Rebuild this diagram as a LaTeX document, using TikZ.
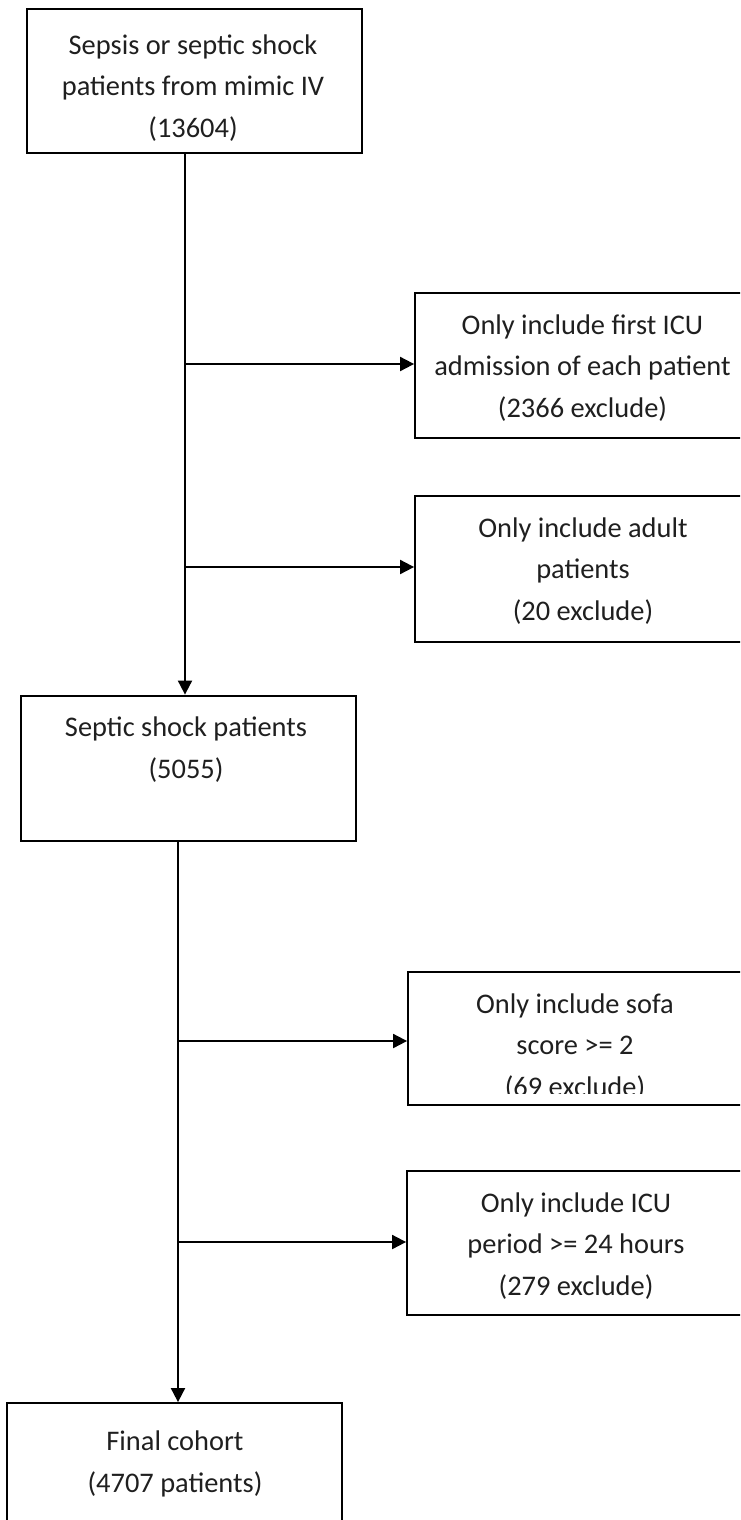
\documentclass[tikz,border=0pt]{standalone}
\usepackage{fontspec}
\setmainfont{Carlito}
\usetikzlibrary{arrows.meta}
\begin{document}
\begin{tikzpicture}[x=1pt,y=-1pt,
  box/.style={draw=black, line width=1.8pt, inner sep=0pt},
  thickbox/.style={box, line width=2.8pt},
  lbl/.style={inner sep=0pt, align=center, anchor=base, text=black!88,
    font=\fontsize{28.4}{41.5}\selectfont},
  arr/.style={line width=1.9pt, -{Triangle[length=14pt,width=14pt]}}]
\useasboundingbox (0,0) rectangle (740,1520);
\begin{scope}
\clip (0,0) rectangle (740,1520);
% boxes
\node[box, minimum width=335pt, minimum height=144pt] (b1) at (194.5,81) {};
\node[box, minimum width=355pt, minimum height=145pt] (e1) at (592.5,365.5) {};
\node[box, minimum width=355pt, minimum height=146pt] (e2) at (592.5,569) {};
\node[thickbox, minimum width=335pt, minimum height=145pt] (b2) at (188.5,768.5) {};
\node[box, minimum width=362pt, minimum height=133pt] (e3) at (589,1038.5) {};
\node[box, minimum width=363pt, minimum height=144pt] (e4) at (588.5,1243) {};
\node[box, minimum width=335pt, minimum height=157pt] (b3) at (174.5,1481.5) {};
% labels (anchor = baseline of the last line)
\node[lbl] (t1) at (193,137) {Sepsis or septic shock\\patients from mimic IV\\(13604)};
\node[lbl] (t2) at (582.5,417) {Only include first ICU\\admission of each patient\\(2366 exclude)};
\node[lbl] (t3) at (583,620) {Only include adult\\patients\\(20 exclude)};
\node[lbl] (t4) at (186,778) {Septic shock patients\\(5055)};
\begin{scope}
\clip (0,0) rectangle (740,1093);
\node[lbl] (t5) at (575,1096) {Only include sofa\\score >= 2\\(69 exclude)};
\end{scope}
\node[lbl] (t6) at (576,1295) {Only include ICU\\period >= 24 hours\\(279 exclude)};
\node[lbl] (t7) at (175,1492) {Final cohort\\(4707 patients)};
% connectors
\coordinate (j1) at (185,364);
\coordinate (j2) at (185,567);
\coordinate (j3) at (178,1041);
\coordinate (j4) at (178,1242);
\draw[arr] (j1 |- b1.south) -- (j1 |- b2.north);
\draw[arr] (j1) -- (j1 -| e1.west);
\draw[arr] (j2) -- (j2 -| e2.west);
\draw[arr] (j3 |- b2.south) -- (j3 |- b3.north);
\draw[arr] (j3) -- (j3 -| e3.west);
\draw[arr] (j4) -- (j4 -| e4.west);
\end{scope}
\end{tikzpicture}
\end{document}
